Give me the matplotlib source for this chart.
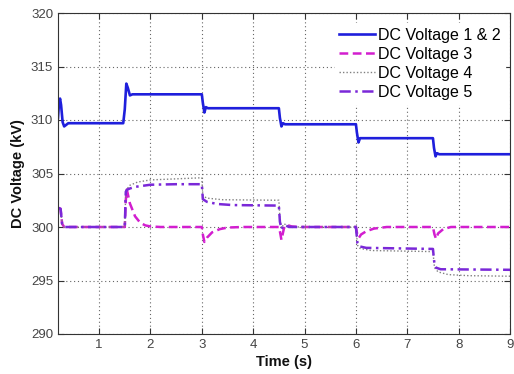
import matplotlib
matplotlib.use("Agg")
import matplotlib.pyplot as plt

# ---- data ----
t12 = [0.2, 0.22, 0.24, 0.26, 0.29, 0.32, 0.4, 1.47, 1.5, 1.53, 1.56, 1.6, 1.65,
       3.0, 3.02, 3.05, 3.08, 3.12, 4.5, 4.52, 4.55, 4.58, 4.62,
       6.0, 6.02, 6.05, 6.08, 6.12, 7.5, 7.52, 7.55, 7.58, 7.62, 9.0]
v12 = [310.2, 311.6, 312.0, 311.4, 309.8, 309.4, 309.7, 309.7, 311.0, 313.4, 313.0, 312.3, 312.4,
       312.4, 311.6, 310.7, 311.2, 311.1, 311.1, 310.2, 309.4, 309.7, 309.6,
       309.6, 308.8, 307.9, 308.3, 308.3, 308.3, 307.4, 306.6, 306.9, 306.8, 306.8]

t3 = [0.2, 0.25, 0.28, 0.32, 1.5, 1.52, 1.54, 1.6, 1.7, 1.8, 1.9, 2.0, 2.2,
      3.0, 3.02, 3.05, 3.1, 3.2, 3.35, 3.5, 3.8,
      4.5, 4.52, 4.55, 4.6, 4.65, 4.75, 4.9,
      6.0, 6.03, 6.06, 6.1, 6.2, 6.35, 6.6,
      7.5, 7.53, 7.56, 7.6, 7.7, 7.85, 9.0]
v3 = [301.8, 301.7, 300.3, 300.0, 300.0, 302.5, 303.5, 302.2, 301.0, 300.4, 300.15, 300.05, 300.0,
      300.0, 299.3, 298.6, 299.0, 299.5, 299.8, 299.95, 300.0,
      300.0, 299.6, 298.8, 299.9, 300.2, 300.05, 300.0,
      300.0, 299.2, 299.0, 299.3, 299.6, 299.85, 300.0,
      300.0, 299.3, 298.9, 299.4, 299.8, 300.0, 300.0]

t4 = [0.2, 0.25, 0.28, 0.32, 1.5, 1.52, 1.6, 1.75, 2.0, 2.5, 3.0,
      3.02, 3.1, 3.4, 4.5, 4.52, 4.55, 4.6, 4.7, 4.9,
      6.0, 6.03, 6.08, 6.3, 7.5, 7.53, 7.6, 7.8, 8.2, 9.0]
v4 = [301.8, 301.7, 300.3, 300.0, 300.0, 303.4, 303.9, 304.2, 304.4, 304.5, 304.6,
      302.9, 302.7, 302.55, 302.5, 300.8, 299.9, 300.3, 300.05, 300.0,
      300.0, 298.3, 298.0, 297.8, 297.7, 296.2, 295.8, 295.55, 295.45, 295.4]

t5 = [0.2, 0.25, 0.28, 0.32, 1.5, 1.52, 1.55, 1.6, 1.7, 1.85, 2.0, 2.5, 3.0,
      3.02, 3.1, 3.3, 3.6, 4.5, 4.52, 4.55, 4.6, 4.7,
      6.0, 6.03, 6.06, 6.2, 7.5, 7.53, 7.56, 7.65, 9.0]
v5 = [301.8, 301.7, 300.3, 300.0, 300.0, 303.3, 303.5, 303.6, 303.75, 303.85, 303.95, 304.0, 304.0,
      302.6, 302.35, 302.15, 302.05, 302.0, 300.5, 299.8, 300.2, 300.0,
      300.0, 298.5, 298.2, 298.05, 297.95, 296.5, 296.2, 296.05, 296.0]

labels = ["DC Voltage 1 & 2", "DC Voltage 3", "DC Voltage 4", "DC Voltage 5"]
xticks = [1, 2, 3, 4, 5, 6, 7, 8, 9]
yticks = [290, 295, 300, 305, 310, 315, 320]

plt.rcParams['font.family'] = ['Liberation Sans', 'DejaVu Sans']

fig = plt.figure(figsize=(5.14, 3.74), dpi=100)
ax = fig.add_axes([58/514, 40/374, 452/514, 321/374])

ax.plot(t12, v12, color='#1f1fdc', lw=1.9, ls='-', label=labels[0])
ax.plot(t3, v3, color='#d21ecf', lw=1.8, ls=(0, (3.5, 1.8)), label=labels[1])
ax.plot(t4, v4, color='#808080', lw=1.0, ls=(0, (1, 1.5)), label=labels[2])
ax.plot(t5, v5, color='#7a28d8', lw=1.8, ls=(0, (4.5, 1.8, 1, 1.8)), label=labels[3])

ax.set_xlim(0.2, 9)
ax.set_ylim(290, 320)
ax.set_xticks(xticks)
ax.set_yticks(yticks)
ax.grid(True, ls=(0, (1, 2.5)), color='#666666', lw=0.8)
ax.tick_params(direction='in', length=4, top=True, right=True, labelsize=9.5,
               labelcolor='#444444', color='#333333')
for s in ax.spines.values():
    s.set_color('#333333')
    s.set_linewidth(0.8)

ax.set_xlabel("Time (s)", fontsize=10.5, fontweight='bold', color='#111111', labelpad=3)
ax.set_ylabel("DC Voltage (kV)", fontsize=10.5, fontweight='bold', color='#111111', labelpad=4)

leg = ax.legend(loc='upper right', bbox_to_anchor=(1.0, 0.984), fontsize=11.5,
                frameon=True, fancybox=False,
                edgecolor='white', facecolor='white', framealpha=1,
                handlelength=2.2, handletextpad=0.2, labelspacing=0.25,
                borderaxespad=0.3, borderpad=0.3)

fig.savefig("out.png", dpi=100)
